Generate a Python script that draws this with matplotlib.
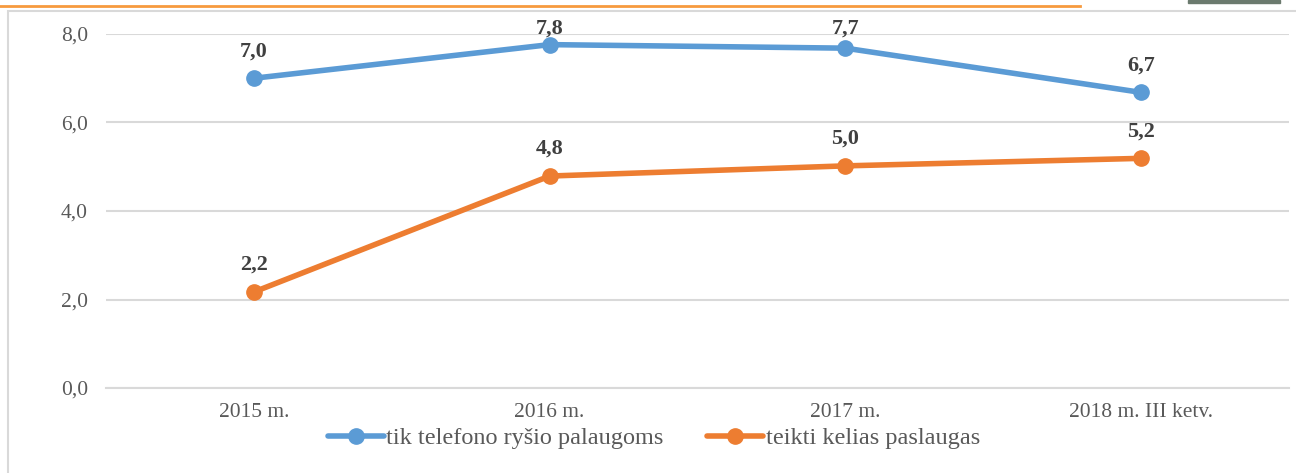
import matplotlib.pyplot as plt
from matplotlib.patches import Rectangle
from matplotlib.lines import Line2D

# duomenys
categories = ["2015 m.", "2016 m.", "2017 m.", "2018 m. III ketv."]
tik_telefono = [7.0, 7.76, 7.68, 6.68]
kelias_paslaugas = [2.17, 4.79, 5.02, 5.19]
series_names = ["tik telefono ryšio palaugoms", "teikti kelias paslaugas"]
y_ticks = [0, 2, 4, 6, 8]

blue = "#5b9bd5"
orange = "#ed7d31"

plt.rcParams["font.family"] = ["Liberation Serif", "DejaVu Serif"]

fig = plt.figure(figsize=(12.96, 4.73), dpi=100)

# remelis ir virsutine linija
fig.patches.append(Rectangle((8 / 1296, -0.01), 1.0, 1 - 11 / 473 + 0.01,
                             transform=fig.transFigure, fill=False,
                             edgecolor="#d9d9d9", linewidth=1.5))
fig.lines.append(Line2D([0, 1080 / 1296], [1 - 6 / 473, 1 - 6 / 473],
                        transform=fig.transFigure, color="#f79a3e", linewidth=2))
fig.patches.append(Rectangle((1188 / 1296, 1 - 3 / 473), 92 / 1296, 3 / 473,
                             transform=fig.transFigure, color="#6b7a6e"))

ax = fig.add_axes([106 / 1296, 1 - 388 / 473, 1183 / 1296, 354 / 473])

ymax = 8
x = list(range(len(categories)))
for vals, col, name in [(tik_telefono, blue, series_names[0]),
                        (kelias_paslaugas, orange, series_names[1])]:
    ax.plot(x, vals, color=col, linewidth=4, marker="o", markersize=11,
            label=name, solid_capstyle="round")
    for xi, v in zip(x, vals):
        # etiketes virs tasku, bet ne auksciau brezinio ribos
        ax.text(xi, min(v + 0.5, ymax), f"{v:.1f}".replace(".", ","),
                ha="center", va="baseline", fontsize=16, fontweight="bold",
                color="#404040")

ax.set_xlim(-0.5, len(categories) - 0.5)
ax.set_ylim(0, ymax)
ax.set_yticks(y_ticks)
ax.set_yticklabels([f"{t:.1f}".replace(".", ",") for t in y_ticks])
ax.set_xticks(x)
ax.set_xticklabels(categories)
ax.tick_params(axis="both", length=0, labelsize=15.5, labelcolor="#595959")
ax.tick_params(axis="y", pad=13)
ax.tick_params(axis="x", pad=11)
ax.grid(axis="y", color="#d9d9d9", linewidth=1.5)
ax.set_axisbelow(True)
for s in ["top", "right", "left"]:
    ax.spines[s].set_visible(False)
ax.spines["bottom"].set_color("#d9d9d9")
ax.spines["bottom"].set_linewidth(1.5)

leg = fig.legend(loc="center", bbox_to_anchor=(654 / 1296, 1 - 438 / 473),
                 ncol=2, frameon=False, fontsize=17.5, handlelength=2.3,
                 handletextpad=0.1, columnspacing=1.8)
for t in leg.get_texts():
    t.set_color("#595959")

fig.savefig("out.png", dpi=100)
